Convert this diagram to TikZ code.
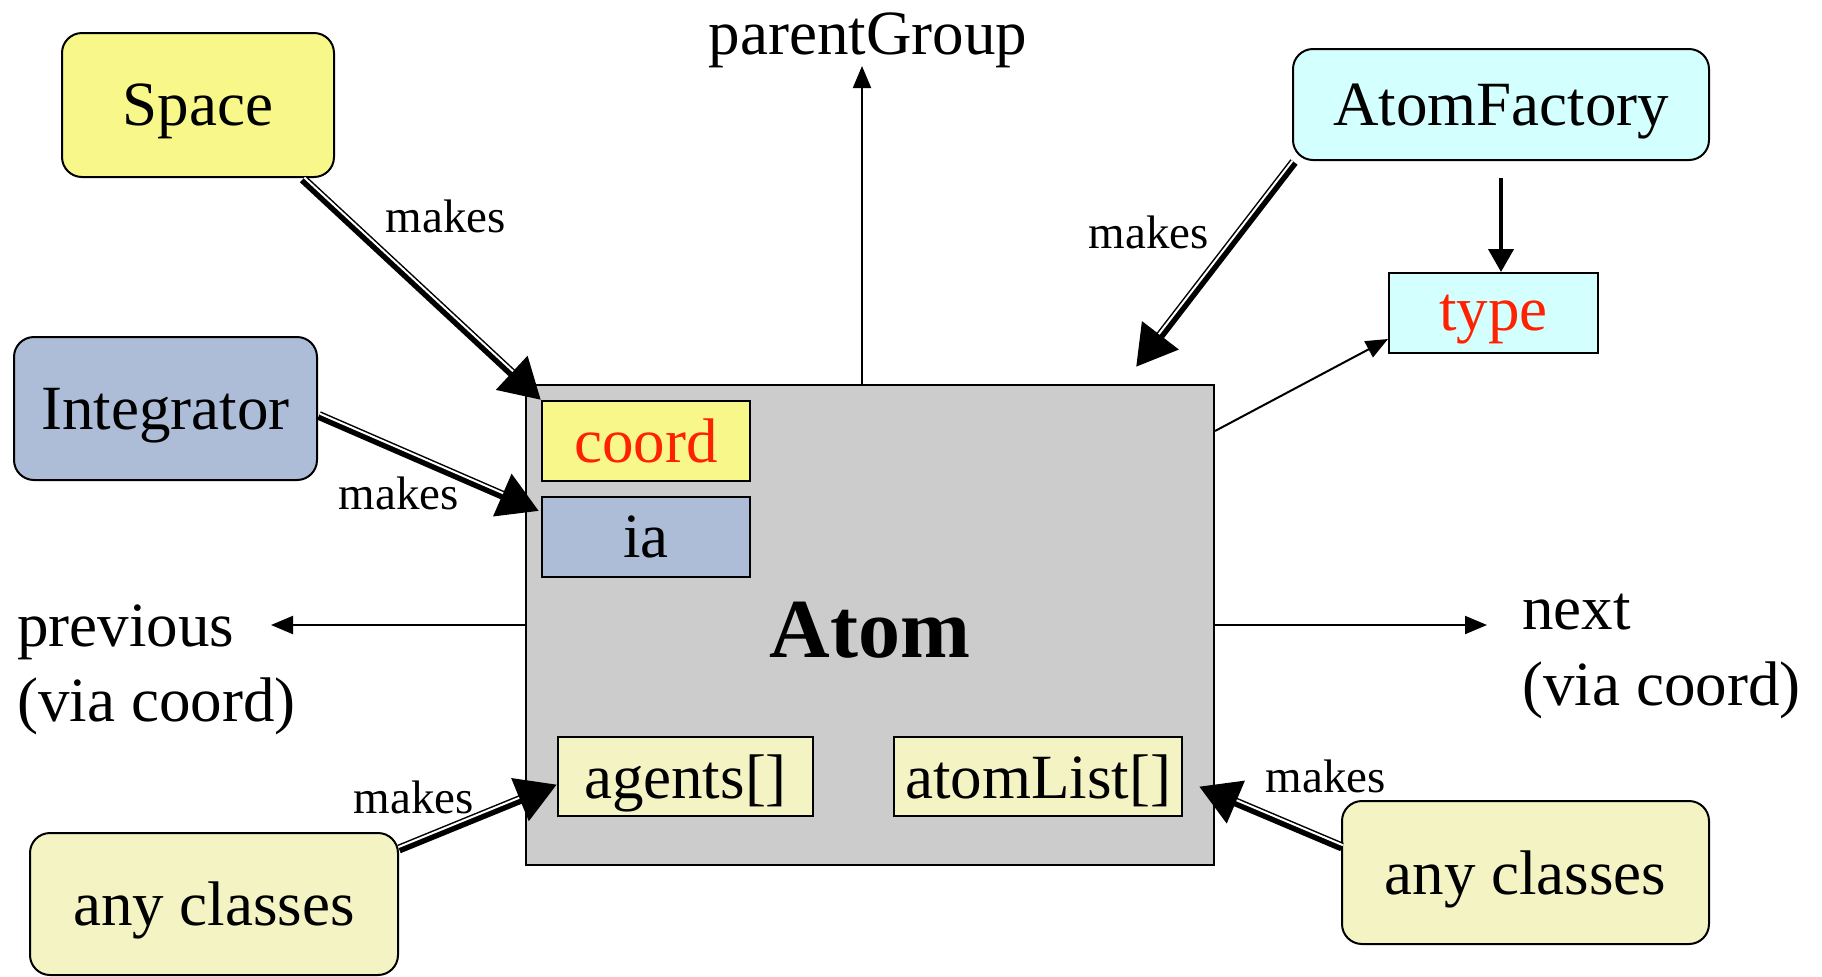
\documentclass[tikz,border=0pt]{standalone}
\usepackage{fontspec}
\setmainfont{Liberation Serif}
\usetikzlibrary{arrows.meta,calc}

\definecolor{spaceyellow}{RGB}{247,247,138}
\definecolor{integblue}{RGB}{173,189,216}
\definecolor{factcyan}{RGB}{212,255,255}
\definecolor{anypale}{RGB}{243,243,196}
\definecolor{atomgray}{RGB}{204,204,204}
\definecolor{fieldred}{RGB}{255,34,0}

% double-shafted "makes" arrow: black shaft with a thin white stripe
% shifted to one side (#3 / #4 pick the side)
\newcommand\makesarrow[4]{%
  \draw[makesline] (#1) -- (#2);
  \draw[white, line width=1pt, shorten >=20pt]
    ($(#1)!1pt!#3:(#2)$) -- ($(#2)!1pt!#4:(#1)$);
}

\begin{document}
\begin{tikzpicture}[x=0.5pt,y=-0.5pt,
  box/.style={draw=black, line width=1pt, inner sep=0pt, text depth=0pt,
    font=\fontsize{31.5pt}{37.5pt}\selectfont},
  rbox/.style={box, rounded corners=10pt},
  txt/.style={font=\fontsize{31.5pt}{37.5pt}\selectfont, inner sep=0pt},
  makeslabel/.style={font=\fontsize{23.5pt}{28pt}\selectfont, inner sep=0pt},
  thinarrow/.style={line width=1pt, -{Triangle[length=11pt,width=9pt]}},
  midarrow/.style={line width=2pt, -{Triangle[length=11.5pt,width=12.5pt]}},
  makesline/.style={line width=4.5pt, -{Triangle[length=20pt,width=22pt]}}]

\useasboundingbox (0,0) rectangle (1822,976);

% the atom and its fields
\node[box, fill=atomgray, minimum width=344pt, minimum height=240pt] (atom) at (870,625) {};
\node[font=\fontsize{42pt}{48pt}\selectfont\bfseries, inner sep=0pt] (atomname) at (870,630) {Atom};
\node[box, fill=spaceyellow, text=fieldred, minimum width=104pt, minimum height=40pt]
  (coord) at (646,441) {coord};
\node[box, fill=integblue, minimum width=104pt, minimum height=40pt]
  (ia) at (646,537) {ia};
\node[box, fill=anypale, minimum width=127.5pt, minimum height=39.5pt]
  (agents) at (685.5,776.5) {agents[]};
\node[box, fill=anypale, minimum width=144pt, minimum height=39.5pt]
  (atomList) at (1038,776.5) {atomList[]};

% classes around the atom
\node[rbox, fill=spaceyellow, minimum width=136pt, minimum height=72pt]
  (space) at (198,105) {Space};
\node[rbox, fill=integblue, minimum width=151.5pt, minimum height=71.5pt]
  (integ) at (165.5,408.5) {Integrator};
\node[rbox, fill=factcyan, minimum width=208pt, minimum height=55.5pt]
  (factory) at (1501,104.5) {AtomFactory};
\node[box, fill=factcyan, text=fieldred, minimum width=104.5pt, minimum height=40pt]
  (type) at (1493.5,313) {type};
\node[rbox, fill=anypale, minimum width=184pt, minimum height=71pt]
  (anyL) at (214,904) {any classes};
\node[rbox, fill=anypale, minimum width=183.5pt, minimum height=71.5pt]
  (anyR) at (1525.5,872.5) {any classes};

% plain references
\node[txt, anchor=base] (parent) at (868,54) {parentGroup};
\node[txt, anchor=base west] (prev) at (17,646) {previous};
\node[txt, anchor=base west] (prevvia) at (17,721) {(via coord)};
\node[txt, anchor=base west] (next) at (1522,629) {next};
\node[txt, anchor=base west] (nextvia) at (1522,705) {(via coord)};

\coordinate (parenttip) at (862,66);
\coordinate (prevtip) at (271,625);
\coordinate (nexttip) at (1487,625);

\draw[thinarrow] (atom.north -| parenttip) -- (parenttip);
\draw[thinarrow] (atom.west) -- (prevtip);
\draw[thinarrow] (atom.east) -- (nexttip);
\draw[thinarrow] ($(atom.north east)+(0,47)$) -- ($(type.south west)+(0,-15)$);
\draw[midarrow] ($(factory.south)+(0,17)$) -- (factory.south |- type.north);

% "makes" connectors
\coordinate (spaceOut) at ($(space.south east)+(-32,1)$);
\coordinate (integOut) at ($(integ.east)+(1,7)$);
\coordinate (factOut) at ($(factory.south west)+(2,1)$);
\coordinate (anyLOut) at ($(anyL.north east)+(0,17)$);
\coordinate (anyROut) at ($(anyR.north west)+(1,47)$);
\coordinate (iaIn) at ($(ia.north west)+(-2,15)$);
\coordinate (atomIn) at ($(atom.north east)+(-79,-17)$);
\coordinate (agentsIn) at ($(agents.west)+(0,8)$);
\coordinate (listIn) at ($(atomList.east)+(16,10)$);

\makesarrow{spaceOut}{coord.north west}{90}{-90}
\makesarrow{integOut}{iaIn}{90}{-90}
\makesarrow{factOut}{atomIn}{-90}{90}
\makesarrow{anyLOut}{agentsIn}{90}{-90}
\makesarrow{anyROut}{listIn}{-90}{90}

\node[makeslabel] (mk1) at (446,216) {makes};
\node[makeslabel] (mk2) at (399,493) {makes};
\node[makeslabel] (mk3) at (1149,232) {makes};
\node[makeslabel] (mk4) at (414,797) {makes};
\node[makeslabel] (mk5) at (1326,776) {makes};

\end{tikzpicture}
\end{document}
